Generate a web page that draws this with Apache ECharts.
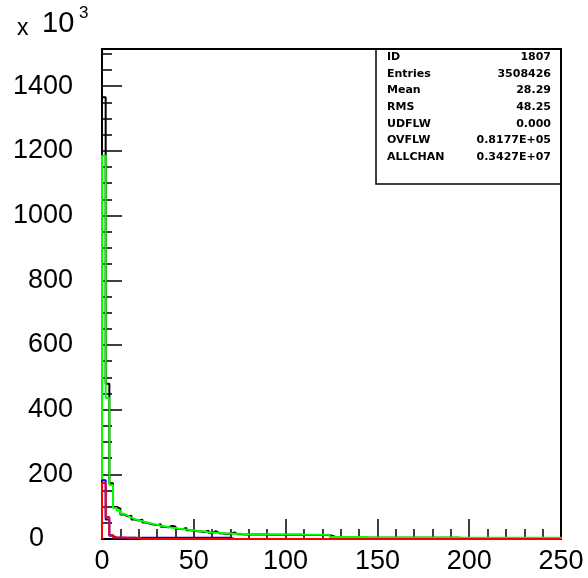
<!DOCTYPE html>
<html>
<head>
<meta charset="utf-8">
<script src="https://cdn.jsdelivr.net/npm/echarts@6/dist/echarts.min.js"></script>
<style>
  html, body { margin: 0; padding: 0; background: #fff; }
  #chart { width: 588px; height: 578px; }
</style>
</head>
<body>
<div id="chart"></div>
<script>
// Histogram 1807: contents per 2-unit bin, in units of 10^3 entries.
const binWidth = 2;

// data (drawn as black steps)
const dataCounts = [
  1366, 480, 172, 99, 94, 76, 70, 72, 60, 57,
  60, 51, 48, 45, 43, 46, 38, 36, 40, 39,
  31, 30, 34, 27, 26, 24, 23, 22, 26, 19,
  24, 18, 17, 16, 16, 20, 15, 15, 14, 14,
  14, 14, 14, 14, 14, 13, 13, 13, 13, 13,
  13, 13, 13, 13, 12, 12, 12, 12, 12, 12,
  12, 12, 9, 5, 5, 5, 5, 5, 5, 5,
  5, 5, 4, 4, 4, 4, 4, 4, 4, 4,
  4, 4, 4, 4, 4, 4, 4, 4, 4, 4,
  4, 4, 4, 4, 4, 4, 4, 3, 3, 3,
  3, 3, 3, 3, 3, 3, 3, 3, 3, 3,
  3, 3, 3, 3, 3, 3, 3, 3, 3, 3,
  3, 3, 3, 3, 3
];

// total (green)
const totalCounts = [
  1185, 436, 167, 96, 88, 78, 72, 66, 61, 58,
  55, 52, 49, 46, 44, 41, 39, 37, 35, 34,
  32, 31, 29, 28, 27, 25, 24, 23, 21, 20,
  19, 19, 18, 17, 17, 16, 16, 16, 15, 15,
  15, 15, 15, 15, 15, 14, 14, 14, 14, 14,
  14, 14, 14, 14, 13, 13, 13, 13, 13, 13,
  13, 13, 6, 6, 6, 6, 6, 6, 6, 6,
  6, 6, 5, 5, 5, 5, 5, 5, 5, 5,
  5, 5, 5, 5, 5, 5, 5, 5, 5, 5,
  5, 5, 5, 5, 5, 5, 5, 4, 4, 4,
  4, 4, 4, 4, 4, 4, 4, 4, 4, 4,
  4, 4, 4, 4, 4, 4, 4, 4, 4, 4,
  4, 4, 4, 4, 4
];

// component (blue)
const blueCounts = [
  182, 60, 10, 4, 4, 4, 4, 4, 4, 3,
  4, 4, 4, 4, 4, 4, 4, 4, 4, 4,
  4, 4, 4, 4, 4, 4, 4, 4, 4, 4,
  4, 4, 4, 4, 4, 0, 0, 0, 0, 0,
  0, 0, 0, 0, 0, 0, 0, 0, 0, 0,
  0, 0, 0, 0, 0, 0, 0, 0, 0, 0,
  0, 0, 0, 0, 0, 0, 0, 0, 0, 0,
  0, 0, 0, 0, 0, 0, 0, 0, 0, 0,
  0, 0, 0, 0, 0, 0, 0, 0, 0, 0,
  0, 0, 0, 0, 0, 0, 0, 0, 0, 0,
  0, 0, 0, 0, 0, 0, 0, 0, 0, 0,
  0, 0, 0, 0, 0, 0, 0, 0, 0, 0,
  0, 0, 0, 0, 0
];

// component (red)
const redCounts = [
  173, 68, 12, 5, 5, 5, 4, 4, 4, 3,
  0, 0, 0, 0, 0, 0, 0, 0, 0, 0,
  0, 0, 0, 0, 0, 0, 0, 0, 0, 0,
  0, 0, 0, 0, 0, 0, 0, 0, 0, 0,
  0, 0, 0, 0, 0, 0, 0, 0, 0, 0,
  0, 0, 0, 0, 0, 0, 0, 0, 0, 0,
  0, 0, 0, 0, 0, 0, 0, 0, 0, 0,
  0, 0, 0, 0, 0, 0, 0, 0, 0, 0,
  0, 0, 0, 0, 0, 0, 0, 0, 0, 0,
  0, 0, 0, 0, 0, 0, 0, 0, 0, 0,
  0, 0, 0, 0, 0, 0, 0, 0, 0, 0,
  0, 0, 0, 0, 0, 0, 0, 0, 0, 0,
  0, 0, 0, 0, 0
];

// statistics box
const statNames  = ['ID', 'Entries', 'Mean', 'RMS', 'UDFLW', 'OVFLW', 'ALLCHAN'];
const statValues = ['1807', '3508426', '28.29', '48.25', '0.000', '0.8177E+05', '0.3427E+07'];

const xMin = 0, xMax = 250, yMin = 0, yMax = 1515;

// Turn per-bin contents into step-line vertices (left edge of each bin).
function histPoints(counts) {
  const pts = [[0, 0]];
  counts.forEach((v, i) => pts.push([i * binWidth, v]));
  const end = counts.length * binWidth;
  pts.push([end, counts[counts.length - 1]]);
  pts.push([end, 0]);
  return pts;
}

function histSeries(name, counts, color, z) {
  return {
    name, type: 'line', step: 'end', data: histPoints(counts),
    xAxisIndex: 0, yAxisIndex: 0, symbol: 'none', silent: true, animation: false,
    lineStyle: { color, width: 2 }, z
  };
}

const FONT = '"Liberation Sans", Arial, sans-serif';
const axisColor = '#000';

const chart = echarts.init(document.getElementById('chart'), null, { renderer: 'canvas' });

// stats box text
const statGraphics = [];
const rowTop = 57, rowStep = 16.7;
statNames.forEach((n, i) => {
  statGraphics.push({
    type: 'text', silent: true,
    style: { x: 387, y: rowTop + i * rowStep, text: n, textAlign: 'left', textVerticalAlign: 'middle',
             font: 'bold 11px "DejaVu Sans", sans-serif', fill: '#000' }
  });
  statGraphics.push({
    type: 'text', silent: true,
    style: { x: 551, y: rowTop + i * rowStep, text: statValues[i], textAlign: 'right', textVerticalAlign: 'middle',
             font: 'bold 11px "DejaVu Sans", sans-serif', fill: '#000' }
  });
});

chart.setOption({
  animation: false,
  backgroundColor: '#fff',
  grid: { left: 102, right: 27, top: 49, bottom: 39, show: true, borderColor: '#000', borderWidth: 2, backgroundColor: 'transparent' },
  xAxis: [{
    type: 'value', min: xMin, max: xMax, interval: 50, position: 'bottom',
    axisLine: { show: true, lineStyle: { color: axisColor, width: 2 } },
    axisTick: { show: true, inside: true, length: 20, lineStyle: { color: axisColor, width: 1.5 } },
    minorTick: { show: true, splitNumber: 5, length: 10, lineStyle: { color: axisColor, width: 1.5 } },
    splitLine: { show: false }, minorSplitLine: { show: false },
    axisLabel: { color: '#000', fontFamily: FONT, fontSize: 27, margin: 9 }
  }],
  yAxis: [{
    // fine ticks every 50
    type: 'value', min: yMin, max: yMax, interval: 50, position: 'left',
    axisLine: { show: true, lineStyle: { color: axisColor, width: 2 } },
    axisTick: { show: true, inside: true, length: 10, lineStyle: { color: axisColor, width: 1.5 } },
    splitLine: { show: false }, axisLabel: { show: false }
  }, {
    // labelled ticks every 200
    type: 'value', min: yMin, max: yMax, interval: 200, position: 'left',
    axisLine: { show: false },
    axisTick: { show: true, inside: true, length: 20, lineStyle: { color: axisColor, width: 1.5 } },
    splitLine: { show: false },
    axisLabel: {
      color: '#000', fontFamily: FONT, fontSize: 27, margin: 29, showMaxLabel: false,
      formatter: v => (v === 0 ? '{z|0}' : String(v)),
      rich: { z: { fontFamily: FONT, fontSize: 27, color: '#000', padding: [0, 29, 0, 0] } }
    }
  }],
  series: [
    histSeries('data', dataCounts, '#000000', 2),
    histSeries('total', totalCounts, '#00ff00', 3),
    histSeries('blue', blueCounts, '#0000ff', 4),
    histSeries('red', redCounts, '#ff0000', 5)
  ],
  graphic: [
    { type: 'text', silent: true, style: { x: 17, y: 29, text: 'x', textAlign: 'left', textVerticalAlign: 'middle', font: '23px "Liberation Sans", sans-serif', fill: '#000' } },
    { type: 'text', silent: true, style: { x: 42, y: 24, text: '10', textAlign: 'left', textVerticalAlign: 'middle', font: '29px "Liberation Sans", sans-serif', fill: '#000' } },
    { type: 'text', silent: true, style: { x: 79, y: 13.5, text: '3', textAlign: 'left', textVerticalAlign: 'middle', font: '17px "Liberation Sans", sans-serif', fill: '#000' } },
    { type: 'polyline', silent: true, shape: { points: [[376, 49], [376, 184], [561, 184]] }, style: { stroke: '#000', lineWidth: 1.5, fill: null } }
  ].concat(statGraphics)
});
</script>
</body>
</html>
